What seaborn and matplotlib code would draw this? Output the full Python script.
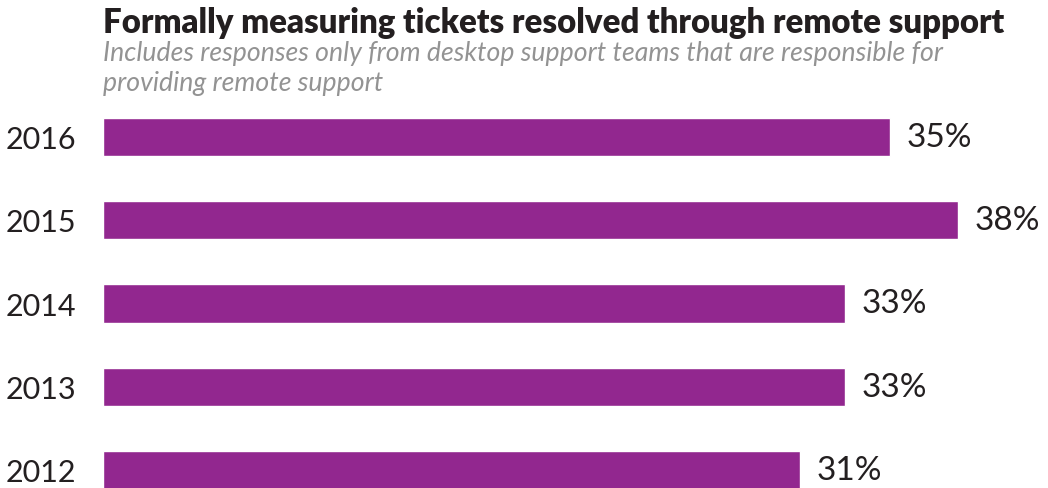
import pandas as pd
import seaborn as sns
import matplotlib.pyplot as plt

years = ['2016', '2015', '2014', '2013', '2012']
values = [35, 38, 33, 33, 31]
labels = ['35%', '38%', '33%', '33%', '31%']

df = pd.DataFrame({'year': years, 'pct': values})

sns.set_style('white')
plt.rcParams['font.family'] = ['Lato', 'DejaVu Sans']

W, H = 1048, 489
fig = plt.figure(figsize=(W / 100, H / 100), dpi=100)
ax = fig.add_axes([103 / W, 0, 1 - 103 / W, 1 - 96 / H])

sns.barplot(data=df, x='pct', y='year', orient='h', color='#92278f',
            saturation=1, width=0.46, ax=ax)

ax.set_xlim(0, (W - 103) / 22.49)
ax.set_ylim(4.216, -0.5)
ax.set_xlabel('')
ax.set_ylabel('')
ax.set_xticks([])
ax.tick_params(axis='y', length=0, pad=19, labelsize=22, labelcolor='#231f20')
sns.despine(ax=ax, left=True, bottom=True)

for i, (v, lab) in enumerate(zip(values, labels)):
    ax.annotate(lab, (v, i), xytext=(12, 0), textcoords='offset points',
                va='center', ha='left', fontsize=24, color='#231f20')

fig.text(103 / W, 1 - 23 / H, 'Formally measuring tickets resolved through remote support',
         fontsize=23.7, fontweight='heavy', color='#231f20', va='center', ha='left')
fig.text(103 / W, 1 - 53 / H,
         'Includes responses only from desktop support teams that are responsible for',
         fontsize=19.2, fontstyle='italic', color='#939393',
         va='center', ha='left')
fig.text(103 / W, 1 - 83 / H, 'providing remote support',
         fontsize=19.2, fontstyle='italic', color='#939393',
         va='center', ha='left')

fig.savefig('out.png', dpi=100)
